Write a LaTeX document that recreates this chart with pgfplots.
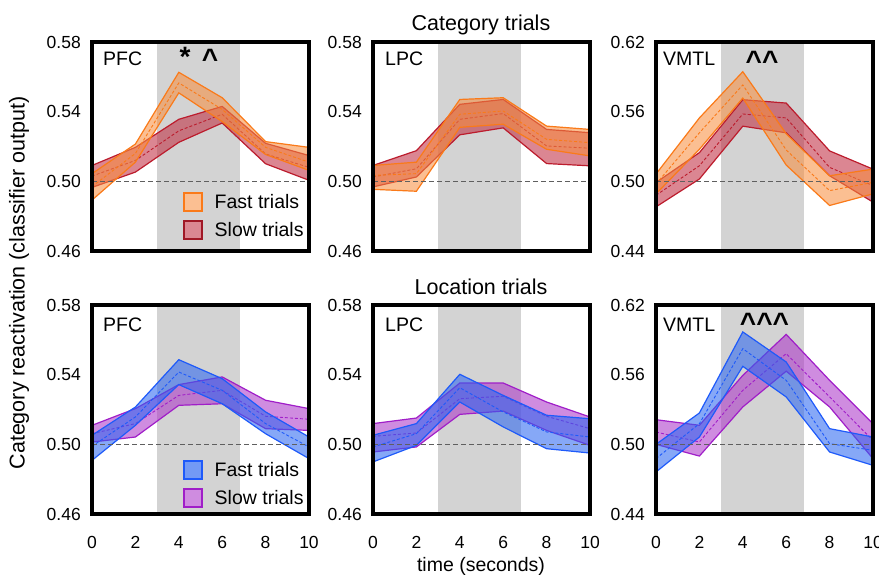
\documentclass[border=0pt]{standalone}
\usepackage{pgfplots}
\pgfplotsset{compat=1.18}
\usepgfplotslibrary{fillbetween}
\usepackage{pgfplotstable}
\usepackage{fontspec}
\setmainfont{Liberation Sans}

\definecolor{shadegray}{RGB}{211,211,211}
\definecolor{zerogray}{RGB}{95,95,95}
\definecolor{catFastLine}{RGB}{250,122,25}
\definecolor{catFastFill}{RGB}{248,140,60}
\definecolor{catSlowLine}{RGB}{188,28,45}
\definecolor{catSlowFill}{RGB}{190,40,60}
\definecolor{locFastLine}{RGB}{30,90,250}
\definecolor{locFastFill}{RGB}{40,100,240}
\definecolor{locSlowLine}{RGB}{160,30,200}
\definecolor{locSlowFill}{RGB}{170,50,200}

\tikzset{fill between/on layer=main}

\pgfplotstableread{
x fu fl fm su sl sm
0 0.5044 0.4892 0.4970 0.5091 0.4965 0.5030
2 0.5214 0.5110 0.5160 0.5195 0.5053 0.5120
4 0.5626 0.5508 0.5565 0.5356 0.5224 0.5290
6 0.5480 0.5343 0.5413 0.5430 0.5335 0.5385
8 0.5228 0.5154 0.5195 0.5218 0.5101 0.5157
10 0.5195 0.5063 0.5110 0.5148 0.5006 0.5080
}\catPFC
\pgfplotstableread{
x fu fl fm su sl sm
0 0.5091 0.4954 0.5034 0.5091 0.4968 0.5025
2 0.5110 0.4943 0.5044 0.5176 0.5025 0.5072
4 0.5470 0.5310 0.5385 0.5442 0.5267 0.5356
6 0.5480 0.5328 0.5404 0.5470 0.5307 0.5389
8 0.5317 0.5184 0.5241 0.5298 0.5102 0.5203
10 0.5298 0.5146 0.5222 0.5279 0.5089 0.5190
}\catLPC
\pgfplotstableread{
x fu fl fm su sl sm
0 0.5063 0.4892 0.4977 0.4990 0.4780 0.4880
2 0.5546 0.5276 0.5418 0.5247 0.5020 0.5134
4 0.5944 0.5717 0.5830 0.5703 0.5475 0.5580
6 0.5410 0.5140 0.5270 0.5674 0.5418 0.5546
8 0.5048 0.4792 0.4920 0.5262 0.5048 0.5120
10 0.5105 0.4892 0.4991 0.5105 0.4821 0.4963
}\catVMTL
\pgfplotstableread{
x fu fl fm su sl sm
0 0.5052 0.4908 0.4989 0.5109 0.5013 0.5061
2 0.5214 0.5109 0.5157 0.5205 0.5042 0.5119
4 0.5486 0.5343 0.5415 0.5343 0.5224 0.5281
6 0.5377 0.5233 0.5310 0.5387 0.5233 0.5310
8 0.5186 0.5061 0.5119 0.5253 0.5090 0.5161
10 0.5042 0.4918 0.4985 0.5205 0.5080 0.5144
}\locPFC
\pgfplotstableread{
x fu fl fm su sl sm
0 0.5052 0.4899 0.4985 0.5119 0.4956 0.5046
2 0.5119 0.4994 0.5061 0.5151 0.4985 0.5065
4 0.5402 0.5243 0.5325 0.5352 0.5172 0.5262
6 0.5281 0.5100 0.5186 0.5352 0.5191 0.5276
8 0.5167 0.4975 0.5071 0.5243 0.5080 0.5161
10 0.5147 0.4950 0.5042 0.5157 0.4994 0.5090
}\locLPC
\pgfplotstableread{
x fu fl fm su sl sm
0 0.5000 0.4762 0.4877 0.5212 0.5000 0.5106
2 0.5270 0.5063 0.5178 0.5164 0.4899 0.5020
4 0.5968 0.5672 0.5824 0.5594 0.5322 0.5465
6 0.5709 0.5408 0.5551 0.5947 0.5630 0.5781
8 0.5135 0.4934 0.5006 0.5551 0.5322 0.5408
10 0.5063 0.4819 0.4948 0.5178 0.4877 0.5034
}\locVMTL

\newcommand{\tickfont}{\fontsize{17.5}{20}\selectfont}
\newcommand{\labfont}{\fontsize{19.5}{22}\selectfont}
\newcommand{\titfont}{\fontsize{21.5}{24}\selectfont}
\newcommand{\markfont}{\fontsize{28}{30}\selectfont\bfseries}

\pgfplotsset{
  panel/.style={
    scale only axis, width=217pt, height=209pt,
    xmin=0, xmax=10, xtick={0,2,4,6,8,10},
    major tick length=0pt,
    axis line style={line width=3.7pt},
    axis on top,
    tick label style={font=\tickfont},
    /pgf/number format/assume math mode=true,
    yticklabel style={inner sep=0pt, xshift=-11pt,
      /pgf/number format/fixed, /pgf/number format/fixed zerofill,
      /pgf/number format/precision=2},
    xticklabel style={inner sep=0pt, yshift=-22pt},
  },
  lowy/.style={ymin=0.46, ymax=0.58, ytick={0.46,0.50,0.54,0.58}},
  highy/.style={ymin=0.44, ymax=0.62, ytick={0.44,0.50,0.56,0.62}},
  notx/.style={xticklabels={}},
  legbox/.style={
    legend image code/.code={\draw[##1, line width=1.6pt] (0pt,-9pt) rectangle (18pt,9pt);},
    legend style={at={(0.419,0.282)}, anchor=north west, draw=none, fill=none,
      inner sep=0pt, row sep=8pt, font=\labfont,
      /tikz/every odd column/.append style={column sep=10pt}},
    legend cell align=left,
  },
}

\newcommand{\bands}[5]{%
  \addplot[forget plot, fill=shadegray, draw=none] coordinates {(3,0.40) (6.8,0.40) (6.8,0.70) (3,0.70)} -- cycle;
  \addplot[forget plot, name path=su, draw=none] table[x=x,y=su]{#1};
  \addplot[forget plot, name path=sl, draw=none] table[x=x,y=sl]{#1};
  \addplot[forget plot, fill=#5, fill opacity=0.56, draw=none] fill between[of=su and sl];
  \addplot[forget plot, draw=#4, line width=1.2pt] table[x=x,y=su]{#1};
  \addplot[forget plot, draw=#4, line width=1.2pt] table[x=x,y=sl]{#1};
  \addplot[forget plot, draw=#4, line width=0.9pt, dash pattern=on 3pt off 2pt] table[x=x,y=sm]{#1};
  \addplot[forget plot, name path=fu, draw=none] table[x=x,y=fu]{#1};
  \addplot[forget plot, name path=fl, draw=none] table[x=x,y=fl]{#1};
  \addplot[forget plot, fill=#3, fill opacity=0.56, draw=none] fill between[of=fu and fl];
  \addplot[forget plot, draw=#2, line width=1.2pt] table[x=x,y=fu]{#1};
  \addplot[forget plot, draw=#2, line width=1.2pt] table[x=x,y=fl]{#1};
  \addplot[forget plot, draw=#2, line width=0.9pt, dash pattern=on 3pt off 2pt] table[x=x,y=fm]{#1};
  \addplot[forget plot, draw=zerogray, line width=1.5pt, dash pattern=on 5pt off 3pt] coordinates {(0,0.5) (10,0.5)};
}

\begin{document}
\begin{tikzpicture}

% ---- Category trials ----
\begin{axis}[panel, lowy, notx, legbox, at={(92pt,324pt)}, anchor=south west]
  \bands{\catPFC}{catFastLine}{catFastFill}{catSlowLine}{catSlowFill}
  \addlegendimage{draw=catFastLine, fill=catFastFill!56}
  \addlegendentry{Fast trials}
  \addlegendimage{draw=catSlowLine!85!black, fill=catSlowFill!56}
  \addlegendentry{Slow trials}
\end{axis}
\begin{axis}[panel, lowy, notx, at={(373pt,324pt)}, anchor=south west]
  \bands{\catLPC}{catFastLine}{catFastFill}{catSlowLine}{catSlowFill}
\end{axis}
\begin{axis}[panel, highy, notx, at={(656pt,324pt)}, anchor=south west]
  \bands{\catVMTL}{catFastLine}{catFastFill}{catSlowLine}{catSlowFill}
\end{axis}

% ---- Location trials ----
\begin{axis}[panel, lowy, legbox, legend style={at={(0.419,0.258)}}, at={(92pt,61pt)}, anchor=south west]
  \bands{\locPFC}{locFastLine}{locFastFill}{locSlowLine}{locSlowFill}
  \addlegendimage{draw=locFastLine, fill=locFastFill!65}
  \addlegendentry{Fast trials}
  \addlegendimage{draw=locSlowLine, fill=locSlowFill!56}
  \addlegendentry{Slow trials}
\end{axis}
\begin{axis}[panel, lowy, at={(373pt,61pt)}, anchor=south west]
  \bands{\locLPC}{locFastLine}{locFastFill}{locSlowLine}{locSlowFill}
\end{axis}
\begin{axis}[panel, highy, at={(656pt,61pt)}, anchor=south west]
  \bands{\locVMTL}{locFastLine}{locFastFill}{locSlowLine}{locSlowFill}
\end{axis}

% ---- texts ----
\node[anchor=base, font=\titfont] at (481pt,544pt) {Category trials};
\node[anchor=base, font=\titfont] at (481pt,280pt) {Location trials};
\node[anchor=base, font=\labfont] at (481pt,3.5pt) {time (seconds)};
\node[rotate=90, font=\titfont] at (19pt,292pt) {Category reactivation (classifier output)};

\node[anchor=north west, inner sep=0pt, font=\labfont] at (103pt,523pt) {PFC};
\node[anchor=north west, inner sep=0pt, font=\labfont] at (385pt,523pt) {LPC};
\node[anchor=north west, inner sep=0pt, font=\labfont] at (663pt,523pt) {VMTL};
\node[anchor=north west, inner sep=0pt, font=\labfont] at (103pt,257pt) {PFC};
\node[anchor=north west, inner sep=0pt, font=\labfont] at (385pt,257pt) {LPC};
\node[anchor=north west, inner sep=0pt, font=\labfont] at (663pt,257pt) {VMTL};

\node[anchor=north, inner sep=0pt, font=\markfont] at (185pt,528pt) {*};
\node[anchor=north, inner sep=0pt, font=\markfont] at (210pt,526pt) {\textasciicircum};
\node[anchor=north, inner sep=0pt, font=\markfont] at (762pt,524pt) {\textasciicircum\textasciicircum};
\node[anchor=north, inner sep=0pt, font=\markfont] at (764.5pt,262pt) {\textasciicircum\textasciicircum\textasciicircum};

\pgfresetboundingbox
\path (0pt,0pt) rectangle (879pt,575pt);
\end{tikzpicture}
\end{document}
